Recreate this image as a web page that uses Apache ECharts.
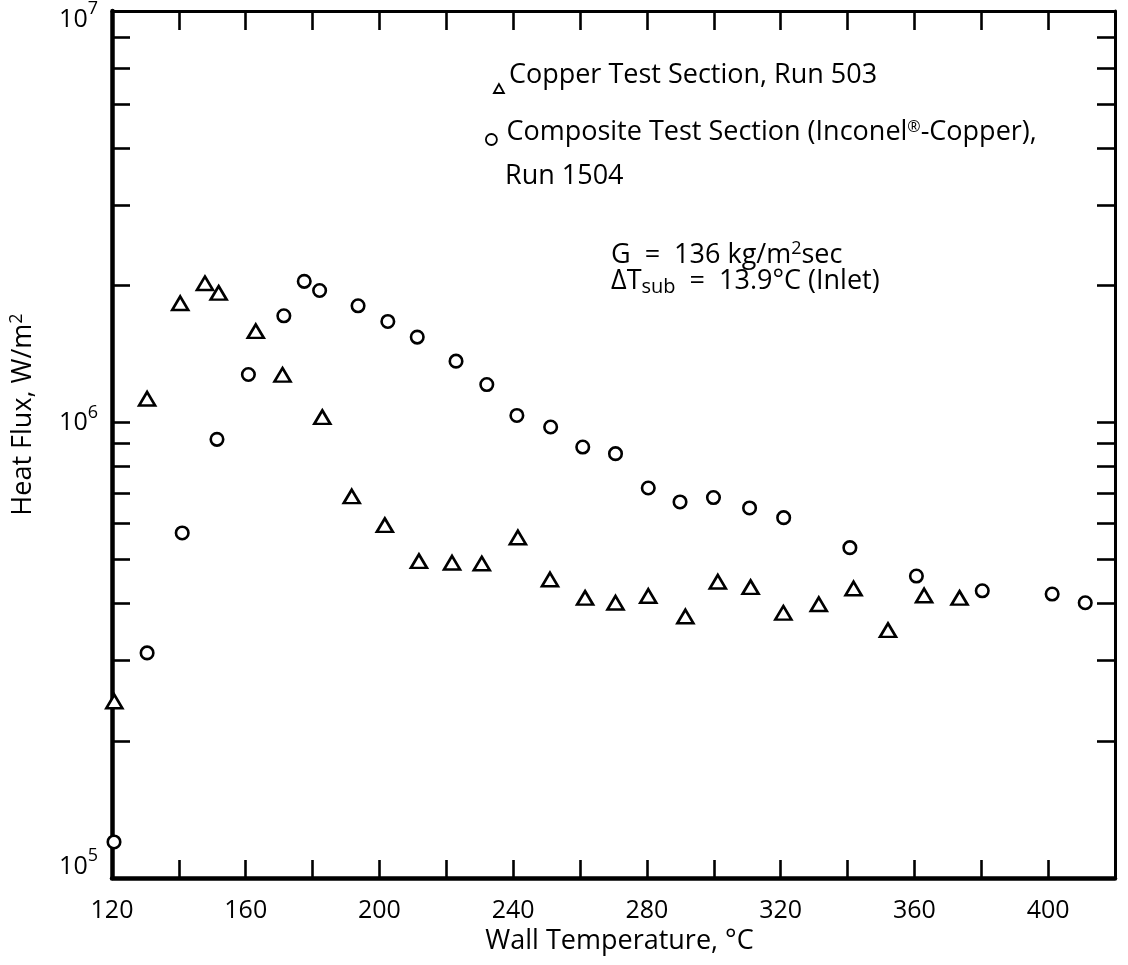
<!DOCTYPE html>
<html><head><meta charset="utf-8">
<script src="https://cdn.jsdelivr.net/npm/echarts@6/dist/echarts.min.js"></script>
<style>html,body{margin:0;padding:0;background:#fff}#c{width:1128px;height:965px}</style>
</head><body><div id="c"></div>
<script>
// ---- data ----
const copperName = 'Copper Test Section, Run 503';
const compositeName = 'Composite Test Section (Inconel®-Copper),';
const copperTemp = [120.7,130.5,140.4,147.8,151.9,163.0,171.0,182.9,191.7,201.6,211.8,221.7,230.6,241.4,251.0,261.5,270.6,280.4,291.5,301.2,311.0,320.8,331.4,341.8,352.1,362.9,373.5];
const copperFlux = [2.44e5,1.127e6,1.827e6,2.02e6,1.925e6,1.586e6,1.272e6,1.027e6,6.88e5,5.95e5,4.96e5,4.92e5,4.90e5,5.59e5,4.52e5,4.12e5,4.02e5,4.16e5,3.75e5,4.47e5,4.35e5,3.82e5,3.99e5,4.32e5,3.50e5,4.17e5,4.12e5];
const compositeTemp = [120.6,130.5,141.0,151.4,160.8,171.4,177.5,182.1,193.6,202.5,211.3,222.9,232.1,241.1,251.2,260.8,270.6,280.4,289.9,299.9,310.7,320.9,340.7,360.6,380.3,401.2,411.1];
const compositeFlux = [1.20e5,3.12e5,5.72e5,9.18e5,1.274e6,1.714e6,2.04e6,1.948e6,1.803e6,1.666e6,1.539e6,1.363e6,1.211e6,1.036e6,9.77e5,8.83e5,8.54e5,7.18e5,6.69e5,6.84e5,6.49e5,6.18e5,5.31e5,4.60e5,4.27e5,4.20e5,4.02e5];
const xMin = 120, xMax = 420, xTickStep = 20, xLabelStep = 40;
const yMin = 1e5, yMax = 8e6;
const yTickValues = [1e5,2e5,3e5,4e5,5e5,6e5,7e5,8e5,9e5,1e6,2e6,3e6,4e6,5e6,6e6,7e6];
const yLabelValues = [1e5, 1e6, 8e6];
const yLabelExponents = ['5', '6', '7'];
const noteLines = ['Run 1504', 'G  =  136 kg/m{sup|2}sec', 'ΔT{sub|sub}  =  13.9°C (Inlet)'];

// ---- chart ----
const FONT = '"Open Sans", "Noto Sans", sans-serif';
const INK = '#000';
const TXT = 27;
const chart = echarts.init(document.getElementById('c'), null, {renderer: 'canvas'});
const lg = v => Math.log10(v);
const tickAxisBase = {
  type: 'value', min: lg(yMin), max: lg(yMax),
  splitLine: {show: false},
  axisTick: {show: true, inside: true, length: 18, lineStyle: {color: INK, width: 2.6},
             customValues: yTickValues.map(lg)}
};
const yLabelIndex = v => yLabelValues.findIndex(lv => Math.abs(lg(lv) - v) < 1e-6);

const option = {
  animation: false,
  backgroundColor: '#fff',
  grid: {left: 110, right: 13, top: 10, bottom: 87, containLabel: false},
  xAxis: [
    {type: 'value', position: 'bottom', min: xMin, max: xMax, interval: xTickStep,
     name: 'Wall Temperature, °C', nameLocation: 'middle', nameGap: 46,
     nameTextStyle: {fontFamily: FONT, fontSize: 27, color: INK, padding: [0, 0, 0, 12]},
     axisLine: {show: true, lineStyle: {color: INK, width: 4.5}},
     axisTick: {show: true, inside: true, length: 18, lineStyle: {color: INK, width: 2.6}},
     axisLabel: {show: true, margin: 20, fontFamily: FONT, fontSize: 25, color: INK,
       formatter: v => ((v - xMin) % xLabelStep === 0 && v < xMax) ? String(v) : ''},
     splitLine: {show: false}},
    {type: 'value', position: 'top', min: xMin, max: xMax, interval: xTickStep,
     axisLine: {show: true, lineStyle: {color: INK, width: 3}},
     axisTick: {show: true, inside: true, length: 19, lineStyle: {color: INK, width: 2.6}},
     axisLabel: {show: false}, splitLine: {show: false}}
  ],
  yAxis: [
    {type: 'log', logBase: 10, min: yMin, max: yMax, show: false},
    Object.assign({}, tickAxisBase, {
      position: 'left',
      name: 'Heat Flux, W/m{sup|2}', nameLocation: 'middle', nameGap: 74,
      nameTextStyle: {fontFamily: FONT, fontSize: 27, color: INK, padding: [0, 0, 0, 60],
        rich: {sup: {fontFamily: FONT, fontSize: 18, color: INK, padding: [0, 0, 12, 0]}}},
      axisLine: {show: true, lineStyle: {color: INK, width: 4.5}},
      axisLabel: {show: true, margin: 14, customValues: yLabelValues.map(lg),
        formatter: v => {
          const i = Math.max(0, yLabelIndex(v));
          return '{b' + i + '|10}{s' + i + '|' + yLabelExponents[i] + '}';
        },
        rich: {
          b0: {fontFamily: FONT, fontSize: 25, color: INK, padding: [0, 0, 22, 0]},
          s0: {fontFamily: FONT, fontSize: 18, color: INK, padding: [0, 0, 44, 0]},
          b1: {fontFamily: FONT, fontSize: 25, color: INK},
          s1: {fontFamily: FONT, fontSize: 18, color: INK, padding: [0, 0, 20, 0]},
          b2: {fontFamily: FONT, fontSize: 25, color: INK, padding: [18, 0, 0, 0]},
          s2: {fontFamily: FONT, fontSize: 18, color: INK, padding: [0, 0, 4, 0]}
        }}
    }),
    Object.assign({}, tickAxisBase, {
      position: 'right',
      axisLine: {show: true, lineStyle: {color: INK, width: 3}},
      axisLabel: {show: false}
    })
  ],
  legend: [
    {data: [copperName], orient: 'vertical', left: 488, top: 57,
     itemWidth: 10, itemHeight: 9, selectedMode: false,
     itemStyle: {borderWidth: 1.8},
     formatter: n => '{t|' + n + '}',
     textStyle: {fontFamily: FONT, fontSize: TXT, color: INK,
       rich: {t: {fontFamily: FONT, fontSize: TXT, color: INK, padding: [0, 0, 26, 0]}}}},
    {data: [compositeName], orient: 'vertical', left: 480, top: 114,
     itemWidth: 20, itemHeight: 11, selectedMode: false, symbolKeepAspect: true,
     itemStyle: {borderWidth: 1.8},
     formatter: n => n.replace('®', '{r|®}'),
     textStyle: {fontFamily: FONT, fontSize: TXT, color: INK, padding: [0, 0, 14, 0],
       rich: {r: {fontFamily: FONT, fontSize: 16, color: INK, padding: [0, 0, 11, 0]}}}}
  ],
  graphic: [
    {type: 'text', x: 505, y: 176, silent: true,
     style: {text: noteLines[0], fontFamily: FONT, fontSize: TXT, fill: INK, verticalAlign: 'middle'}},
    {type: 'text', x: 611, y: 255, silent: true,
     style: {text: noteLines[1], fontFamily: FONT, fontSize: TXT, fill: INK, verticalAlign: 'middle',
       rich: {sup: {fontFamily: FONT, fontSize: 18, fill: INK, padding: [0, 0, 12, 0]}}}},
    {type: 'text', x: 611, y: 281, silent: true,
     style: {text: noteLines[2], fontFamily: FONT, fontSize: TXT, fill: INK, verticalAlign: 'middle',
       rich: {sub: {fontFamily: FONT, fontSize: 20, fill: INK, padding: [12, 0, 0, 0]}}}}
  ],
  series: [
    {name: copperName, type: 'scatter', xAxisIndex: 0, yAxisIndex: 0,
     symbol: 'triangle', symbolSize: [16, 13.5], clip: false,
     itemStyle: {color: '#fff', borderColor: INK, borderWidth: 2.6, opacity: 1},
     data: copperTemp.map((t, i) => [t, copperFlux[i]])},
    {name: compositeName, type: 'scatter', xAxisIndex: 0, yAxisIndex: 0,
     symbol: 'circle', symbolSize: 12.5, clip: false,
     itemStyle: {color: '#fff', borderColor: INK, borderWidth: 2.6, opacity: 1},
     data: compositeTemp.map((t, i) => [t, compositeFlux[i]])}
  ]
};
chart.setOption(option);
</script>
</body></html>
